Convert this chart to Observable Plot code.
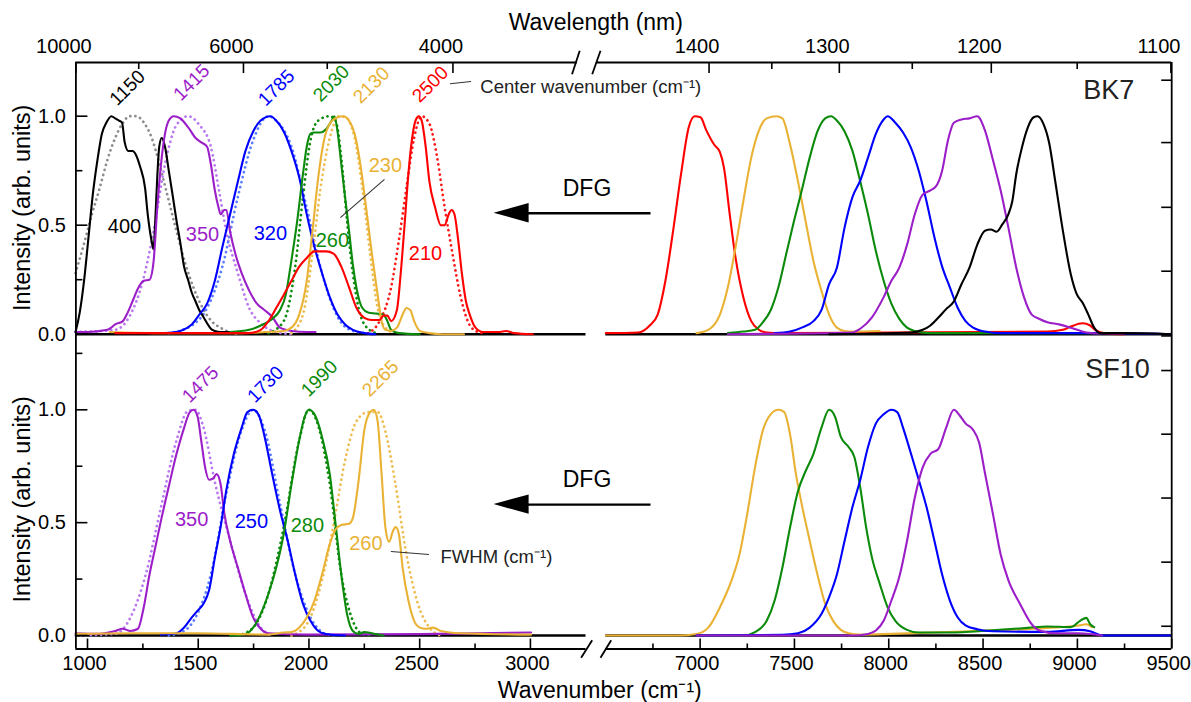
<!DOCTYPE html>
<html><head><meta charset="utf-8">
<script src="https://cdn.jsdelivr.net/npm/d3@7"></script>
<script src="https://cdn.jsdelivr.net/npm/@observablehq/plot@0.6"></script>
<style>
html,body{margin:0;padding:0;background:#fff;}
#chart{width:1191px;height:702px;}
#chart svg{display:block;overflow:visible;}
</style></head>
<body><div id="chart"></div>
<script>
// ---------------- DATA (wavenumber cm^-1, normalized intensity) ----------------
// BK7, mid-IR (DFG) spectra: measured (solid) and fits (dotted)
const bk7_1150 = [[946,0.01],[965,0.10],[985,0.25],[1005,0.45],[1025,0.65],[1045,0.80],[1065,0.92],[1085,0.97],[1108,1.0],[1125,0.99],[1142,0.98],[1156,0.97],[1168,0.88],[1185,0.84],[1203,0.84],[1220,0.82],[1237,0.77],[1260,0.67],[1272,0.55],[1289,0.43],[1298,0.39],[1306,0.52],[1315,0.72],[1324,0.86],[1335,0.90],[1350,0.86],[1367,0.75],[1384,0.64],[1402,0.52],[1419,0.42],[1436,0.31],[1454,0.25],[1471,0.19],[1488,0.15],[1505,0.11],[1523,0.08],[1540,0.05],[1557,0.025],[1575,0.015],[1601,0.01],[1650,0.01],[1700,0.005]];
const bk7_1150fit = [[946,0.28],[980,0.40],[1020,0.55],[1055,0.67],[1090,0.80],[1125,0.90],[1160,0.97],[1190,1.0],[1220,1.0],[1255,0.97],[1290,0.90],[1325,0.78],[1360,0.64],[1400,0.48],[1440,0.33],[1480,0.21],[1520,0.12],[1560,0.06],[1600,0.03],[1640,0.01],[1690,0.0]];
const bk7_1415 = [[946,0.01],[1000,0.01],[1090,0.02],[1107,0.03],[1125,0.045],[1160,0.06],[1177,0.09],[1203,0.15],[1228,0.21],[1254,0.245],[1280,0.25],[1298,0.33],[1315,0.58],[1332,0.78],[1350,0.92],[1367,0.98],[1389,1.0],[1419,0.99],[1454,0.95],[1488,0.90],[1514,0.88],[1540,0.86],[1557,0.78],[1575,0.66],[1592,0.58],[1601,0.55],[1618,0.57],[1627,0.57],[1644,0.47],[1670,0.36],[1696,0.28],[1730,0.20],[1765,0.14],[1800,0.11],[1834,0.08],[1869,0.03],[1921,0.015],[1990,0.01],[2030,0.01]];
const bk7_1415fit = [[946,0.01],[1125,0.02],[1194,0.09],[1246,0.23],[1298,0.47],[1350,0.78],[1402,0.96],[1454,1.0],[1505,0.96],[1557,0.86],[1592,0.67],[1627,0.47],[1679,0.28],[1730,0.12],[1782,0.05],[1852,0.01],[1921,0.0]];
const bk7_1785 = [[1350,0.005],[1419,0.015],[1471,0.045],[1505,0.09],[1540,0.14],[1575,0.245],[1609,0.40],[1644,0.55],[1679,0.70],[1713,0.84],[1748,0.93],[1782,0.98],[1826,1.0],[1852,0.98],[1886,0.93],[1921,0.84],[1956,0.72],[1990,0.55],[2025,0.40],[2059,0.28],[2094,0.17],[2129,0.09],[2163,0.045],[2198,0.02],[2250,0.005],[2300,0.0]];
const bk7_1785fit = [[1367,0.005],[1471,0.04],[1540,0.12],[1609,0.31],[1679,0.63],[1748,0.89],[1817,1.0],[1852,0.98],[1921,0.86],[1990,0.58],[2059,0.28],[2129,0.08],[2198,0.015],[2267,0.005]];
const bk7_2030 = [[1644,0.01],[1730,0.02],[1782,0.04],[1834,0.07],[1869,0.11],[1895,0.18],[1921,0.34],[1947,0.52],[1973,0.735],[1990,0.86],[2007,0.92],[2025,0.925],[2051,0.925],[2077,0.94],[2103,0.98],[2115,1.0],[2129,0.93],[2146,0.78],[2163,0.63],[2181,0.475],[2198,0.32],[2215,0.21],[2241,0.12],[2267,0.10],[2302,0.095],[2336,0.09],[2354,0.06],[2371,0.02],[2406,0.005],[2500,0.0]];
const bk7_2030fit = [[1817,0.005],[1886,0.06],[1938,0.31],[1973,0.63],[2007,0.89],[2042,0.98],[2094,1.0],[2120,0.98],[2146,0.81],[2172,0.52],[2198,0.28],[2224,0.12],[2250,0.045],[2302,0.005]];
const bk7_2130 = [[1100,0.01],[1300,0.005],[1700,0.005],[1800,0.01],[1886,0.015],[1921,0.03],[1956,0.09],[1990,0.245],[2016,0.475],[2042,0.72],[2068,0.89],[2094,0.965],[2129,0.995],[2155,1.0],[2181,0.98],[2206,0.92],[2232,0.78],[2258,0.58],[2284,0.37],[2310,0.18],[2328,0.06],[2345,0.02],[2371,0.015],[2397,0.03],[2423,0.09],[2440,0.12],[2458,0.11],[2475,0.06],[2501,0.015],[2544,0.005],[2600,0.0],[2700,0.0]];
const bk7_2130fit = [[1921,0.005],[1973,0.09],[2016,0.37],[2051,0.66],[2094,0.90],[2137,1.0],[2172,0.99],[2206,0.90],[2241,0.67],[2276,0.37],[2310,0.12],[2345,0.03],[2388,0.005]];
const bk7_2500 = [[1125,0.005],[1500,0.005],[1730,0.005],[1782,0.02],[1817,0.06],[1852,0.12],[1886,0.18],[1921,0.245],[1956,0.31],[1990,0.35],[2025,0.38],[2077,0.38],[2111,0.37],[2146,0.31],[2181,0.215],[2215,0.12],[2250,0.075],[2284,0.065],[2319,0.065],[2336,0.085],[2354,0.085],[2371,0.06],[2397,0.11],[2414,0.275],[2432,0.505],[2449,0.735],[2466,0.90],[2483,0.985],[2496,1.0],[2509,0.98],[2527,0.86],[2544,0.70],[2570,0.58],[2596,0.50],[2613,0.50],[2631,0.55],[2644,0.57],[2657,0.55],[2674,0.43],[2691,0.275],[2709,0.15],[2726,0.09],[2752,0.03],[2786,0.01],[2856,0.01],[2890,0.015],[2925,0.005],[3011,0.0]];
const bk7_2500fit = [[2267,0.005],[2319,0.06],[2371,0.215],[2406,0.43],[2440,0.67],[2475,0.90],[2509,1.0],[2544,0.965],[2579,0.81],[2613,0.58],[2648,0.37],[2683,0.18],[2717,0.06],[2752,0.015],[2786,0.005]];

// BK7, near-IR spectra
const bk7Nir2500 = [[6500,0.005],[6671,0.008],[6733,0.04],[6775,0.09],[6816,0.245],[6857,0.475],[6899,0.735],[6940,0.95],[6971,1.0],[7002,0.995],[7033,0.935],[7074,0.87],[7105,0.835],[7126,0.765],[7157,0.55],[7188,0.35],[7229,0.17],[7271,0.06],[7312,0.02],[7353,0.008],[7436,0.005],[8000,0.008],[8841,0.012],[8923,0.02],[8965,0.035],[9027,0.05],[9068,0.04],[9089,0.023],[9140,0.005],[9250,0.0]];
const bk7Nir2130 = [[6981,0.005],[7043,0.02],[7105,0.09],[7147,0.215],[7188,0.40],[7229,0.61],[7271,0.81],[7312,0.935],[7353,0.99],[7405,1.0],[7436,0.99],[7477,0.87],[7519,0.70],[7560,0.515],[7601,0.335],[7643,0.20],[7684,0.09],[7725,0.03],[7766,0.015],[7808,0.012],[7952,0.015]];
const bk7Nir2030 = [[7147,0.005],[7229,0.012],[7291,0.02],[7333,0.055],[7374,0.11],[7415,0.215],[7457,0.37],[7498,0.52],[7539,0.66],[7581,0.81],[7622,0.93],[7663,0.99],[7694,1.0],[7725,0.98],[7766,0.93],[7808,0.84],[7849,0.70],[7890,0.55],[7932,0.38],[7973,0.245],[8014,0.14],[8056,0.07],[8097,0.03],[8138,0.015],[8221,0.005],[9130,0.005]];
const bk7Nir1785 = [[7395,0.005],[7477,0.012],[7539,0.03],[7601,0.06],[7643,0.11],[7684,0.23],[7725,0.305],[7766,0.49],[7808,0.63],[7849,0.705],[7890,0.81],[7932,0.92],[7973,0.985],[7994,1.0],[8035,0.97],[8076,0.925],[8118,0.855],[8159,0.75],[8200,0.61],[8242,0.445],[8283,0.31],[8324,0.215],[8366,0.12],[8407,0.06],[8448,0.03],[8510,0.012],[8593,0.005],[9130,0.005],[9492,0.0]];
const bk7Nir1415 = [[7147,0.0],[7808,0.008],[7849,0.025],[7911,0.077],[7973,0.17],[8014,0.245],[8056,0.305],[8097,0.41],[8138,0.55],[8180,0.64],[8221,0.66],[8252,0.68],[8283,0.75],[8314,0.89],[8345,0.97],[8386,0.985],[8428,0.99],[8469,1.0],[8510,0.935],[8552,0.80],[8593,0.66],[8634,0.49],[8676,0.305],[8717,0.17],[8758,0.09],[8799,0.07],[8841,0.055],[8903,0.045],[8965,0.03],[9047,0.008],[9130,0.003]];
const bk7Nir1150 = [[7684,0.0],[8118,0.008],[8180,0.02],[8221,0.04],[8262,0.075],[8304,0.115],[8345,0.15],[8386,0.23],[8428,0.305],[8469,0.41],[8510,0.475],[8541,0.48],[8572,0.47],[8603,0.505],[8634,0.55],[8655,0.61],[8676,0.735],[8707,0.86],[8738,0.95],[8768,0.995],[8789,1.0],[8820,0.965],[8851,0.875],[8882,0.705],[8923,0.475],[8965,0.275],[8996,0.185],[9027,0.145],[9058,0.09],[9089,0.03],[9120,0.005],[9254,0.005],[9492,0.0]];

// SF10, mid-IR (DFG) spectra
const sf10_1475 = [[946,0.01],[1038,0.007],[1125,0.02],[1159,0.03],[1194,0.02],[1228,0.03],[1254,0.125],[1280,0.27],[1306,0.39],[1332,0.51],[1367,0.66],[1402,0.805],[1436,0.92],[1462,0.99],[1479,1.0],[1497,0.97],[1514,0.86],[1531,0.745],[1549,0.69],[1566,0.695],[1583,0.715],[1601,0.67],[1618,0.54],[1644,0.42],[1679,0.30],[1713,0.185],[1748,0.08],[1782,0.03],[1817,0.01],[1990,0.004],[2500,0.006],[3003,0.013]];
const sf10_1475fit = [[946,0.0],[1125,0.007],[1194,0.08],[1263,0.27],[1332,0.57],[1402,0.865],[1454,0.995],[1488,1.0],[1523,0.925],[1575,0.68],[1644,0.42],[1713,0.185],[1782,0.035],[1834,0.0]];
const sf10_1730 = [[1332,0.004],[1402,0.01],[1436,0.035],[1471,0.08],[1497,0.11],[1523,0.14],[1549,0.20],[1575,0.345],[1601,0.48],[1627,0.645],[1661,0.805],[1696,0.92],[1722,0.99],[1748,1.0],[1774,0.975],[1800,0.88],[1834,0.715],[1869,0.555],[1904,0.42],[1938,0.27],[1973,0.14],[2007,0.065],[2042,0.02],[2077,0.007],[2163,0.0]];
const sf10_1730fit = [[1367,0.0],[1436,0.02],[1488,0.08],[1557,0.27],[1627,0.63],[1696,0.91],[1748,1.0],[1800,0.91],[1869,0.585],[1938,0.27],[2007,0.08],[2077,0.007],[2129,0.0]];
const sf10_1990 = [[1644,0.0],[1713,0.007],[1748,0.035],[1782,0.095],[1817,0.185],[1852,0.30],[1886,0.45],[1921,0.67],[1956,0.865],[1981,0.97],[1999,1.0],[2025,0.98],[2059,0.88],[2094,0.715],[2120,0.495],[2146,0.27],[2172,0.095],[2198,0.02],[2224,0.007],[2250,0.015],[2284,0.01],[2336,0.0]];
const sf10_1990fit = [[1679,0.0],[1748,0.035],[1817,0.185],[1886,0.48],[1956,0.865],[1999,1.0],[2042,0.93],[2094,0.67],[2146,0.27],[2198,0.065],[2241,0.007],[2284,0.0]];
const sf10_2265 = [[946,0.007],[1200,0.01],[1500,0.01],[1817,0.004],[1886,0.013],[1921,0.015],[1956,0.035],[1990,0.08],[2025,0.155],[2059,0.27],[2094,0.405],[2120,0.47],[2146,0.49],[2181,0.495],[2198,0.52],[2224,0.685],[2250,0.91],[2276,0.99],[2293,1.0],[2310,0.95],[2328,0.715],[2345,0.48],[2362,0.415],[2380,0.465],[2392,0.48],[2406,0.45],[2423,0.30],[2449,0.155],[2475,0.065],[2501,0.035],[2527,0.03],[2561,0.035],[2596,0.02],[2683,0.01],[3003,0.004]];
const sf10_2265fit = [[1921,0.0],[1990,0.05],[2059,0.245],[2111,0.49],[2163,0.775],[2215,0.95],[2267,0.99],[2310,0.99],[2345,0.905],[2388,0.685],[2440,0.36],[2492,0.14],[2544,0.035],[2596,0.0]];

// SF10, near-IR spectra
const sf10Nir2265 = [[6496,0.0],[6878,0.0],[6981,0.007],[7043,0.035],[7105,0.125],[7167,0.245],[7209,0.36],[7250,0.54],[7291,0.745],[7333,0.91],[7374,0.98],[7415,1.0],[7446,0.99],[7477,0.89],[7508,0.715],[7539,0.58],[7581,0.42],[7622,0.27],[7663,0.14],[7705,0.065],[7746,0.025],[7787,0.01],[7849,0.004],[8014,0.007],[8428,0.019],[8841,0.034],[9006,0.044],[9047,0.05],[9078,0.037]];
const sf10Nir1990 = [[6981,0.0],[7229,0.0],[7291,0.015],[7353,0.065],[7395,0.155],[7436,0.30],[7477,0.48],[7519,0.64],[7560,0.73],[7601,0.805],[7643,0.92],[7684,1.0],[7715,0.97],[7746,0.88],[7787,0.835],[7818,0.79],[7849,0.655],[7880,0.48],[7911,0.345],[7952,0.23],[7994,0.125],[8035,0.065],[8097,0.025],[8159,0.013],[8324,0.013],[8531,0.022],[8738,0.034],[8841,0.04],[8965,0.037],[9016,0.066],[9047,0.078],[9068,0.05],[9089,0.037]];
const sf10Nir1730 = [[6981,0.0],[7436,0.003],[7519,0.01],[7581,0.035],[7643,0.095],[7684,0.17],[7725,0.27],[7766,0.42],[7808,0.57],[7849,0.69],[7890,0.835],[7932,0.94],[7973,0.98],[8014,1.0],[8045,0.99],[8076,0.92],[8118,0.805],[8159,0.69],[8200,0.57],[8242,0.42],[8283,0.27],[8324,0.155],[8366,0.08],[8407,0.045],[8469,0.028],[8552,0.019],[8841,0.016],[9006,0.025],[9068,0.019],[9130,0.0],[9492,0.0]];
const sf10Nir1475 = [[6981,0.0],[7808,0.0],[7890,0.007],[7932,0.022],[7973,0.065],[8014,0.155],[8056,0.26],[8097,0.42],[8138,0.61],[8180,0.745],[8221,0.805],[8262,0.825],[8304,0.92],[8345,1.0],[8376,0.975],[8407,0.94],[8448,0.91],[8479,0.855],[8510,0.72],[8552,0.54],[8593,0.36],[8634,0.245],[8696,0.14],[8758,0.05],[8799,0.022],[8882,0.01],[9006,0.01],[9068,0.007],[9130,0.0]];

// Annotations: [text, wavenumber, intensity]
const bk7CenterLabels = [["1150",1180,1.13],["1415",1470,1.155],["1785",1853,1.13],["2030",2101,1.15],["2130",2282,1.142],["2500",2548,1.146]];
const bk7FwhmLabels = [["400",1167,0.494],["350",1519,0.457],["320",1826,0.462],["260",2106,0.43],["230",2345,0.774],["210",2526,0.37]];
const sf10CenterLabels = [["1475",1510,1.112],["1730",1804,1.112],["1990",2047,1.139],["2265",2323,1.139]];
const sf10FwhmLabels = [["350",1470,0.514],["250",1740,0.505],["280",1993,0.487],["260",2257,0.408]];

// Axis ticks
const wavenumberMajor = [1000,1500,2000,2500,3000,7000,7500,8000,8500,9000,9500];
const wavenumberMinor = [1250,1750,2250,2750,6750,7250,7750,8250,8750,9250];
const wavelengthMajor = [10000,6000,4000,1400,1300,1200,1100];
const wavelengthMinor = [8000,5000,1350,1250,1150];
const intensityMajor = [0,0.5,1.0];
const intensityMinor = [0.25,0.75,1.25];
const bk7RightTicks = [-0.008,0.289,0.582,0.879,1.165];
const sf10RightTicks = [0.041,0.325,0.609,0.892,1.174];

// ---------------- LAYOUT / STYLE ----------------
const FONT = "'Liberation Sans', Arial, Helvetica, sans-serif";
const X_DOMAIN = [947.6, 3251, 6500, 9500];           // broken wavenumber axis
const X_RANGE  = [75.4, 585.5, 605.3, 1171.2];
const pxL = (X_RANGE[1]-X_RANGE[0])/(X_DOMAIN[1]-X_DOMAIN[0]);
const pxR = (X_RANGE[3]-X_RANGE[2])/(X_DOMAIN[3]-X_DOMAIN[2]);
const xL = X_DOMAIN[0], xR = X_DOMAIN[3];

// top wavelength axis as calibrated in the original figure
function topAxisNu(lambda){
  const k = 1e7/lambda;
  return k < 5000 ? 947.6 + (k-1000)*1.135 : Math.min(9500, 7047.5 + (k-7142.9)*1.2568);
}
// position inside the axis gap (decoration only)
const gapNu = px => X_DOMAIN[1] + (px - X_RANGE[1])/(X_RANGE[2]-X_RANGE[1])*(X_DOMAIN[2]-X_DOMAIN[1]);

const COL = {black:"#000000", purple:"#9b1ec8", blue:"#0000ff", green:"#0b8a0b", orange:"#e9b235", red:"#ff0000"};
const FIT = {black:"#8c8c8c", purple:"#b878f0", blue:"#5a7cff", green:"#0b8a0b", orange:"#eebd52", red:"#ff1a1a"};

function panel(o){
  const [yMin, yMax] = o.yDomain;
  const pxI = (o.height - o.marginTop - o.marginBottom)/(yMax - yMin);
  const m = [];
  const T = {fontFamily: FONT, fill: "#000"};
  m.push(Plot.ruleY([0], {x1: xL, x2: X_DOMAIN[1], stroke:"#000", strokeWidth:2.4}));
  m.push(Plot.ruleY([0], {x1: X_DOMAIN[2], x2: xR, stroke:"#000", strokeWidth:2.4}));
  for (const s of o.curves){
    m.push(Plot.line(s.data, {x: d=>d[0], y: d=>d[1], stroke: s.fit ? FIT[s.c] : COL[s.c],
      strokeWidth: s.fit ? 2.7 : 2.1, strokeDasharray: s.fit ? "0.1,5" : "none",
      strokeLinecap:"round", strokeLinejoin:"round", curve:"monotone-x"}));
  }
  m.push(Plot.ruleX([xL], {y1: yMin, y2: yMax, stroke:"#000", strokeWidth:1.8}));
  m.push(Plot.ruleX([xR], {y1: yMin, y2: yMax, stroke:"#000", strokeWidth:1.8}));
  m.push(Plot.ruleY(intensityMajor, {y: d=>d, x1: xL, x2: xL + 12/pxL, stroke:"#000", strokeWidth:1.6}));
  m.push(Plot.ruleY(intensityMinor.filter(v=>v<yMax), {y: d=>d, x1: xL, x2: xL + 7/pxL, stroke:"#000", strokeWidth:1.6}));
  m.push(Plot.text(intensityMajor, {...T, y: d=>d, text: d=>d.toFixed(1), frameAnchor:"left", textAnchor:"end", lineAnchor:"middle", dx:-10, fontSize:20}));
  m.push(Plot.ruleY(o.rightTicks, {y: d=>d, x1: xR - 10/pxR, x2: xR, stroke:"#000", strokeWidth:1.6}));
  m.push(Plot.text(["Intensity (arb. units)"], {...T, y: ()=>o.titleY, text: d=>d, frameAnchor:"left", textAnchor:"middle", lineAnchor:"middle", dx:-53.4, rotate:-90, fontSize:23.5}));

  if (o.top){
    m.push(Plot.ruleY([yMax], {x1: xL, x2: 3212, stroke:"#000", strokeWidth:1.8}));
    m.push(Plot.ruleY([yMax], {x1: gapNu(596.7), x2: xR, stroke:"#000", strokeWidth:1.8}));
    const ya = yMax - 11.7/pxI, yb = yMax + 11.7/pxI;
    m.push(Plot.link([0], {x1: ()=>3188, x2: ()=>3222.6, y1: ()=>ya, y2: ()=>yb, stroke:"#000", strokeWidth:1.8}));
    m.push(Plot.link([0], {x1: ()=>gapNu(591.7), x2: ()=>gapNu(600), y1: ()=>ya, y2: ()=>yb, stroke:"#000", strokeWidth:1.8}));
    m.push(Plot.ruleX(wavelengthMajor.map(topAxisNu), {x: d=>d, y1: yMax, y2: yMax - 11/pxI, stroke:"#000", strokeWidth:1.6}));
    m.push(Plot.ruleX(wavelengthMinor.map(topAxisNu), {x: d=>d, y1: yMax, y2: yMax - 7/pxI, stroke:"#000", strokeWidth:1.6}));
    m.push(Plot.text(wavelengthMajor, {...T, x: d=>topAxisNu(d), text: d=>String(d), frameAnchor:"top", lineAnchor:"middle", dy:-16, dx:-12, fontSize:20}));
    m.push(Plot.text(["Wavelength (nm)"], {...T, text: d=>d, frameAnchor:"top", lineAnchor:"middle", dy:-40, dx:-28, fontSize:23}));
  }
  if (o.bottom){
    m.push(Plot.ruleY([yMin], {x1: xL, x2: X_DOMAIN[1], stroke:"#000", strokeWidth:1.8}));
    m.push(Plot.ruleY([yMin], {x1: X_DOMAIN[2], x2: xR, stroke:"#000", strokeWidth:1.8}));
    const ya = yMin - 8.8/pxI, yb = yMin + 8.8/pxI;
    m.push(Plot.link([0], {x1: ()=>3228.9, x2: ()=>gapNu(591.7), y1: ()=>ya, y2: ()=>yb, stroke:"#000", strokeWidth:1.8}));
    m.push(Plot.link([0], {x1: ()=>gapNu(600), x2: ()=>6528.6, y1: ()=>ya, y2: ()=>yb, stroke:"#000", strokeWidth:1.8}));
    m.push(Plot.ruleX(wavenumberMajor, {x: d=>d, y1: yMin, y2: yMin + 10/pxI, stroke:"#000", strokeWidth:1.6}));
    m.push(Plot.ruleX(wavenumberMinor, {x: d=>d, y1: yMin, y2: yMin + 5/pxI, stroke:"#000", strokeWidth:1.6}));
    m.push(Plot.text(wavenumberMajor, {...T, x: d=>d, text: d=>String(d), frameAnchor:"bottom", lineAnchor:"middle", dy:15, dx:-3, fontSize:20}));
    m.push(Plot.text(["Wavenumber (cm\u207B\u00B9)"], {...T, text: d=>d, frameAnchor:"bottom", lineAnchor:"middle", dy:41.5, dx:-24, fontSize:23}));
  }
  const ay = o.dfgArrowY, head = 9.7/pxI, tip = 2836, base = tip + 35/pxL;
  m.push(Plot.link([0], {x1: ()=>base - 2/pxL, x2: ()=>6737, y1: ()=>ay, y2: ()=>ay, stroke:"#000", strokeWidth:2.4}));
  m.push(Plot.areaY([{x:tip, a:ay, b:ay},{x:base, a:ay-head, b:ay+head}], {x:"x", y1:"a", y2:"b", fill:"#000"}));
  m.push(Plot.text(["DFG"], {...T, x: ()=>X_DOMAIN[1], y: ()=>o.dfgTextY, text:d=>d, dx:1, fontSize:23}));
  o.centers.forEach((l,i)=> m.push(Plot.text([l], {x: d=>d[1], y: d=>d[2], text: d=>d[0], rotate:-45, fontSize:19, fontFamily:FONT, fill: COL[o.order[i]]})));
  o.fwhm.forEach((l,i)=> m.push(Plot.text([l], {x: d=>d[1], y: d=>d[2], text: d=>d[0], fontSize:20, fontFamily:FONT, fill: COL[o.order[i]]})));
  for (const n of o.notes){
    m.push(Plot.link([0], {x1: ()=>n.line[0], y1: ()=>n.line[1], x2: ()=>n.line[2], y2: ()=>n.line[3], stroke:"#333", strokeWidth:1.1}));
    if (n.text) m.push(Plot.text([n.text], {x: ()=>n.at[0], y: ()=>n.at[1], text:d=>d, textAnchor:"start", fontSize:18.5, fontFamily:FONT, fill:"#222"}));
  }
  m.push(Plot.text([o.name], {x: ()=>o.nameAt[0], y: ()=>o.nameAt[1], text:d=>d, textAnchor:"start", fontSize:27, fontFamily:FONT, fill:"#222"}));

  return Plot.plot({
    width: 1191, height: o.height,
    marginLeft: X_RANGE[0], marginRight: 1191 - X_RANGE[3], marginTop: o.marginTop, marginBottom: o.marginBottom,
    x: {type:"linear", domain: X_DOMAIN, range: X_RANGE, axis: null},
    y: {type:"linear", domain: o.yDomain, axis: null},
    style: {fontFamily: FONT, background:"#fff", overflow:"visible"},
    marks: m
  });
}

const bk7Curves = [
  {data:bk7_1150fit,c:"black",fit:true},{data:bk7_1415fit,c:"purple",fit:true},{data:bk7_1785fit,c:"blue",fit:true},
  {data:bk7_2030fit,c:"green",fit:true},{data:bk7_2130fit,c:"orange",fit:true},{data:bk7_2500fit,c:"red",fit:true},
  {data:bk7_1150,c:"black"},{data:bk7_1415,c:"purple"},{data:bk7_1785,c:"blue"},{data:bk7_2030,c:"green"},{data:bk7_2130,c:"orange"},{data:bk7_2500,c:"red"},
  {data:bk7Nir2500,c:"red"},{data:bk7Nir2130,c:"orange"},{data:bk7Nir2030,c:"green"},{data:bk7Nir1785,c:"blue"},{data:bk7Nir1415,c:"purple"},{data:bk7Nir1150,c:"black"}
];
const sf10Curves = [
  {data:sf10_1475fit,c:"purple",fit:true},{data:sf10_1730fit,c:"blue",fit:true},{data:sf10_1990fit,c:"green",fit:true},{data:sf10_2265fit,c:"orange",fit:true},
  {data:sf10_1475,c:"purple"},{data:sf10_1730,c:"blue"},{data:sf10_1990,c:"green"},{data:sf10_2265,c:"orange"},
  {data:sf10Nir2265,c:"orange"},{data:sf10Nir1990,c:"green"},{data:sf10Nir1730,c:"blue"},{data:sf10Nir1475,c:"purple"}
];

const topPanelSvg = panel({
  height:349, marginTop:62, marginBottom:0, yDomain:[-0.0702, 1.2463],
  curves: bk7Curves, rightTicks: bk7RightTicks, top:true, titleY:0.58,
  dfgArrowY:0.555, dfgTextY:0.668,
  centers: bk7CenterLabels, fwhm: bk7FwhmLabels, order:["black","purple","blue","green","orange","red"],
  notes:[{line:[2637,1.149,2732,1.159], text:"Center wavenumber (cm\u207B\u00B9)", at:[2774,1.132]},
         {line:[2341,0.71,2142,0.535]}],
  name:"BK7", nameAt:[9031,1.118]
});
const bottomPanelSvg = panel({
  height:353, marginTop:0, marginBottom:53.5, yDomain:[-0.0598, 1.2672],
  curves: sf10Curves, rightTicks: sf10RightTicks, bottom:true, titleY:0.603,
  dfgArrowY:0.580, dfgTextY:0.691,
  centers: sf10CenterLabels, fwhm: sf10FwhmLabels, order:["purple","blue","green","orange"],
  notes:[{line:[2370,0.372,2542,0.359], text:"FWHM (cm\u207B\u00B9)", at:[2594,0.346]}],
  name:"SF10", nameAt:[9042,1.179]
});
const chartRoot = document.getElementById("chart");
chartRoot.appendChild(topPanelSvg);
chartRoot.appendChild(bottomPanelSvg);
</script>
</body></html>
